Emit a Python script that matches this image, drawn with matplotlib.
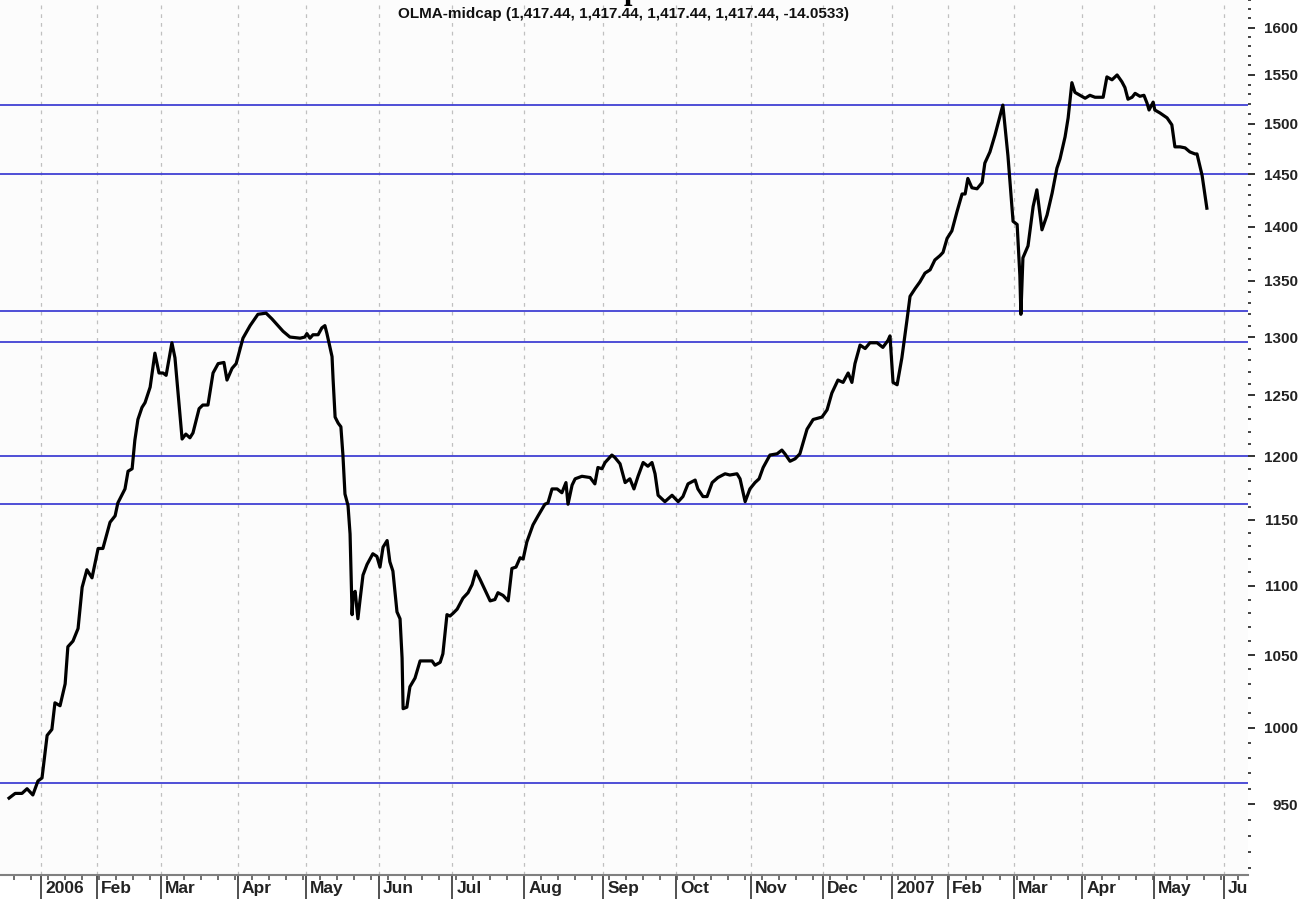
import numpy as np
import matplotlib
matplotlib.use("Agg")
import matplotlib.pyplot as plt
import matplotlib.ticker as mticker
from matplotlib.transforms import ScaledTranslation

# session index (trading-day position) and closing value of OLMA-midcap
sessions = [-9.4, -7.6, -5.6, -4.1, -2.4, -0.9, 0.3, 1.8, 3.2, 4.1, 5.6, 7.1, 7.9, 9.4, 10.9,
            12.1, 13.5, 15.0, 16.8, 18.2, 20.3, 21.8, 22.6, 24.7, 25.6, 26.8, 27.6, 28.5, 29.7,
            30.6, 32.1, 33.5, 34.7, 35.9, 36.8, 38.5, 39.4, 41.5, 42.6, 43.8, 44.7, 46.5, 47.6,
            49.1, 50.6, 52.1, 53.8, 54.7, 56.2, 57.4, 59.4, 61.5, 63.8, 66.2, 67.9, 69.7, 71.2,
            73.2, 76.2, 77.6, 78.2, 79.1, 80.0, 81.5, 82.6, 83.5, 84.1, 85.0, 85.6, 85.9, 86.5,
            87.4, 88.2, 88.8, 89.4, 90.3, 90.9, 91.5, 91.8, 92.4, 92.9, 93.2, 93.8, 94.7, 95.9,
            97.6, 98.8, 99.7, 100.6, 101.8, 102.6, 103.5, 104.7, 105.6, 106.2, 106.5, 107.6,
            108.5, 110.0, 111.5, 112.9, 115.0, 115.9, 117.4, 118.2, 119.4, 120.3, 121.2, 122.4,
            124.1, 125.6, 126.8, 127.9, 129.1, 130.6, 132.1, 133.5, 134.4, 135.9, 137.4, 138.5,
            139.7, 140.9, 141.8, 142.9, 144.7, 146.2, 148.2, 149.1, 150.3, 151.8, 153.2, 154.4,
            155.0, 156.2, 157.1, 159.1, 161.5, 162.9, 163.8, 165.0, 165.9, 167.9, 168.8, 170.3,
            171.8, 173.2, 174.4, 175.6, 177.1, 178.5, 179.7, 180.6, 181.5, 183.5, 185.6, 187.4,
            188.8, 190.3, 192.4, 193.2, 194.7, 195.9, 197.4, 199.1, 201.2, 202.6, 204.7, 205.6,
            207.1, 208.5, 210.0, 211.2, 212.4, 214.4, 216.5, 217.9, 218.8, 220.3, 221.8, 223.2,
            225.3, 227.1, 229.7, 231.2, 232.6, 234.4, 235.9, 237.4, 238.5, 239.4, 240.9, 242.4,
            243.8, 245.9, 247.6, 249.1, 249.7, 250.6, 251.8, 253.2, 254.7, 255.6, 257.1, 258.5,
            260.0, 261.5, 262.9, 264.4, 265.3, 266.5, 267.9, 269.4, 270.9, 271.8, 272.6, 273.8,
            275.3, 276.8, 277.6, 279.1, 280.6, 282.9, 284.4, 285.9, 287.1, 287.9, 288.2, 288.8,
            290.3, 291.8, 292.9, 294.4, 295.9, 297.4, 298.8, 299.7, 301.2, 302.1, 303.2, 304.1,
            305.6, 307.1, 308.5, 310.0, 312.4, 313.5, 315.0, 316.5, 317.9, 318.8, 319.7, 320.9,
            321.8, 323.2, 324.4, 325.3, 325.9, 327.1, 327.6, 329.1, 331.2, 332.6, 333.5, 335.0,
            336.5, 337.9, 339.4, 340.0, 341.5, 342.9]
close = [954, 957, 957, 960, 956, 965, 967, 995, 999, 1017, 1015, 1030, 1056, 1060, 1069,
         1099, 1112, 1106, 1128, 1128, 1148, 1153, 1163, 1174, 1188, 1190, 1213, 1230, 1240,
         1244, 1257, 1286, 1269, 1269, 1267, 1295, 1282, 1214, 1218, 1215, 1219, 1239, 1242,
         1242, 1269, 1277, 1278, 1263, 1273, 1277, 1299, 1310, 1320, 1321, 1316, 1310, 1305,
         1300, 1299, 1300, 1303, 1299, 1302, 1302, 1308, 1310, 1303, 1291, 1283, 1264, 1232,
         1227, 1224, 1201, 1170, 1161, 1139, 1079, 1094, 1096, 1083, 1076, 1089, 1108, 1116,
         1124, 1122, 1114, 1129, 1134, 1118, 1111, 1081, 1076, 1048, 1013, 1014,
         1028, 1034, 1046, 1046, 1046, 1043, 1045, 1051, 1079, 1078, 1080, 1083,
         1091, 1095, 1101, 1111, 1105, 1097, 1089, 1090, 1095, 1093, 1089, 1113,
         1114, 1121, 1120, 1133, 1146, 1153, 1162, 1163, 1174, 1174, 1171, 1179,
         1162, 1177, 1182, 1184, 1183, 1178, 1191, 1190, 1195, 1201, 1199, 1194,
         1179, 1182, 1174, 1184, 1195, 1192, 1195, 1186, 1169, 1164, 1169, 1164,
         1168, 1178, 1181, 1174, 1168, 1168, 1179, 1183, 1186, 1185, 1186, 1182,
         1164, 1174, 1179, 1182, 1191, 1201, 1202, 1205, 1202, 1196, 1198, 1202,
         1222, 1230, 1232, 1238, 1252, 1263, 1261, 1269, 1261, 1277, 1293, 1290,
         1295, 1295, 1291, 1297, 1301, 1261, 1259, 1282, 1315, 1336, 1343, 1349,
         1357, 1360, 1369, 1373, 1376, 1389, 1396, 1414, 1431, 1431, 1446, 1437,
         1436, 1442, 1461, 1472, 1489, 1519, 1468, 1405, 1402, 1355, 1320, 1371,
         1382, 1419, 1435, 1397, 1411, 1432, 1456, 1465, 1487, 1506, 1542, 1532,
         1529, 1526, 1529, 1527, 1527, 1548, 1545, 1550, 1543, 1537, 1525, 1527,
         1531, 1528, 1529, 1521, 1514, 1522, 1514, 1511, 1506, 1499, 1477, 1477,
         1476, 1472, 1470, 1470, 1449, 1417.44]

# support / resistance levels
levels = [1519, 1450, 1323, 1296, 1200, 1162, 964]

# month boundaries on the session axis
month_pos = [0, 16.5, 35.3, 57.9, 77.9, 99.4, 120.9, 142.1, 165.3, 186.8, 208.8, 230.0,
             250.3, 266.8, 286.2, 306.2, 327.4, 347.9]
month_lbl = ['2006', 'Feb', 'Mar', 'Apr', 'May', 'Jun', 'Jul', 'Aug', 'Sep', 'Oct', 'Nov',
             'Dec', '2007', 'Feb', 'Mar', 'Apr', 'May', 'Ju']

y_major = list(range(950, 1601, 50))

plt.rcParams['font.family'] = ['Liberation Sans', 'DejaVu Sans']

fig = plt.figure(figsize=(13.07, 8.99), dpi=100)
fig.patch.set_facecolor('white')
ax = fig.add_axes([0, 24 / 899, 1248 / 1307, 875 / 899])
ax.set_facecolor('#fcfcfc')

for m in month_pos:
    ax.axvline(m, color='#c0c0c0', lw=0.9, ls=(0, (3, 4)), zorder=1)
for lv in levels:
    ax.axhline(lv, color='#4040d4', lw=1.3, zorder=2)

ax.plot(sessions, close, color='black', lw=2.3, zorder=3)

ax.set_yscale('log')
ax.set_ylim(906, 1630)
ax.set_xlim(-12.06, 355.0)

# y axis on the right, labels right-aligned
ax.yaxis.tick_right()
ax.yaxis.set_major_locator(mticker.FixedLocator(y_major))
ax.yaxis.set_major_formatter(mticker.FixedFormatter([str(v) for v in y_major]))
ax.yaxis.set_minor_locator(mticker.FixedLocator([v for v in range(910, 1631, 10) if v % 50]))
ax.yaxis.set_minor_formatter(mticker.NullFormatter())
ax.tick_params(axis='y', which='major', length=5, width=1.4, color='#333333',
               pad=31, labelsize=11)
ax.tick_params(axis='y', which='minor', length=2.5, width=1.4, color='#444444')
for lab in ax.get_yticklabels():
    lab.set_ha('right')
    lab.set_fontweight('bold')
    lab.set_color('#222222')

# x axis: month separators with labels to their right
ax.set_xticks(month_pos, month_lbl)
ax.set_xticks(np.arange(-8, 355, 5), minor=True)
ax.tick_params(axis='x', which='major', length=18, width=1.2, color='#333333',
               pad=-14, labelsize=12.5)
ax.tick_params(axis='x', which='minor', length=3.5, width=1.2, color='#555555')
offset = ScaledTranslation(3 / 72, 0, fig.dpi_scale_trans)
for lab in ax.get_xticklabels():
    lab.set_ha('left')
    lab.set_va('top')
    lab.set_fontweight('bold')
    lab.set_color('#222222')
    lab.set_transform(lab.get_transform() + offset)

for s in ['top', 'left', 'right']:
    ax.spines[s].set_visible(False)
ax.spines['bottom'].set_color('#808080')
ax.spines['bottom'].set_linewidth(1.5)

ax.text(0.5, 1 - 14 / 875, 'OLMA-midcap (1,417.44, 1,417.44, 1,417.44, 1,417.44, -14.0533)',
        transform=ax.transAxes, ha='center', va='center', fontsize=11,
        fontweight='bold', color='#111111')

# cut-off heading above the chart
fig.text(632 / 1307, 1 + 1 / 899, 'p', family='Liberation Serif', fontsize=22,
         fontweight='bold', ha='center', va='baseline')

fig.savefig('out.png', dpi=100)
